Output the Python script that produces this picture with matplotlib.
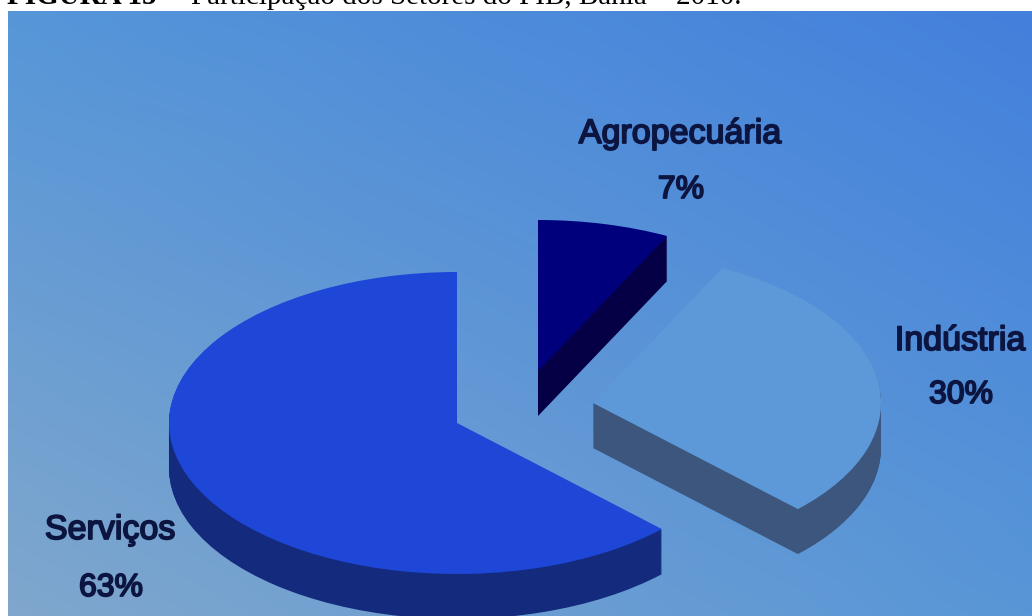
import numpy as np
import matplotlib
matplotlib.use("Agg")
import matplotlib.pyplot as plt
import matplotlib.patheffects as pe
from matplotlib.patches import PathPatch
from matplotlib.transforms import Affine2D

# --- data ---
labels = ["Agropecuária", "Indústria", "Serviços"]
slice_shares = [7.4, 30.0, 62.6]   # as drawn in the picture
pct_labels = ["7%", "30%", "63%"]
caption_bold = "FIGURA 15"
caption_rest = "– Participação dos Setores do PIB, Bahia – 2010."

# --- style / layout ---
top_colors = ["#00007d", "#5d99d9", "#1e46d7"]
side_colors = ["#050046", "#3c567d", "#142a7d"]
centers = [(538, 371), (593, 403), (457, 423)]
label_xy = [(680, 143), (960, 350), (110, 539)]
pct_xy = [(681, 198), (961, 403), (111, 596)]
RX, RY, DEPTH = 288, 151, 45
W, H = 1032, 616
PANEL_L, PANEL_T = 8, 11
draw_order = [2, 0, 1]

fig = plt.figure(figsize=(W / 100, H / 100), dpi=100, facecolor="white")
ax = fig.add_axes([0, 0, 1, 1])

wedges, _ = ax.pie(slice_shares, startangle=90, counterclock=False, radius=1)
for w in wedges:
    w.set_visible(False)

# background gradient (bilinear between the four panel corners)
corners = np.array([[[86, 150, 216], [68, 128, 220]],
                    [[128, 167, 205], [88, 150, 215]]], float) / 255
ny, nx = 150, 256
v, u = np.mgrid[0:1:ny * 1j, 0:1:nx * 1j]
grad = ((1 - v) * (1 - u))[..., None] * corners[0, 0] + ((1 - v) * u)[..., None] * corners[0, 1] \
     + (v * (1 - u))[..., None] * corners[1, 0] + (v * u)[..., None] * corners[1, 1]
ax.imshow(grad, extent=(PANEL_L, W, H, PANEL_T), aspect="auto", zorder=0, interpolation="bilinear")

ax.set_aspect("auto")
ax.set_xlim(0, W)
ax.set_ylim(H, 0)
ax.axis("off")

for rank, i in enumerate(draw_order):
    path = wedges[i].get_path()
    cx, cy = centers[i]
    base = 2 + rank * 2
    for dz in range(DEPTH, 0, -1):
        tr = Affine2D().scale(RX, -RY).translate(cx, cy + dz) + ax.transData
        ax.add_patch(PathPatch(path, transform=tr, facecolor=side_colors[i], edgecolor="none",
                               lw=0, zorder=base))
    tr = Affine2D().scale(RX, -RY).translate(cx, cy) + ax.transData
    ax.add_patch(PathPatch(path, transform=tr, facecolor=top_colors[i], edgecolor="none", zorder=base + 1))

# labels
fam = "Liberation Sans"
shadow = [pe.withStroke(linewidth=1.3, foreground="#0b1540")]
for lab, pct, lxy, pxy in zip(labels, pct_labels, label_xy, pct_xy):
    ax.text(*lxy, lab, family=fam, fontsize=24.5, color="#0b1540",
            ha="center", va="baseline", zorder=20, path_effects=shadow)
    ax.text(*pxy, pct, family=fam, fontsize=23, color="#0b1540",
            ha="center", va="baseline", zorder=20, path_effects=shadow)

# caption, cropped by the top of the picture
ax.text(7, 4.5, caption_bold, family="Liberation Serif", fontsize=21, fontweight="bold",
        color="black", ha="left", va="baseline", zorder=30, clip_on=False)
ax.text(169, 4.5, caption_rest, family="Liberation Serif", fontsize=21,
        color="black", ha="left", va="baseline", zorder=30, clip_on=False)

fig.savefig("out.png", dpi=100, facecolor="white")
